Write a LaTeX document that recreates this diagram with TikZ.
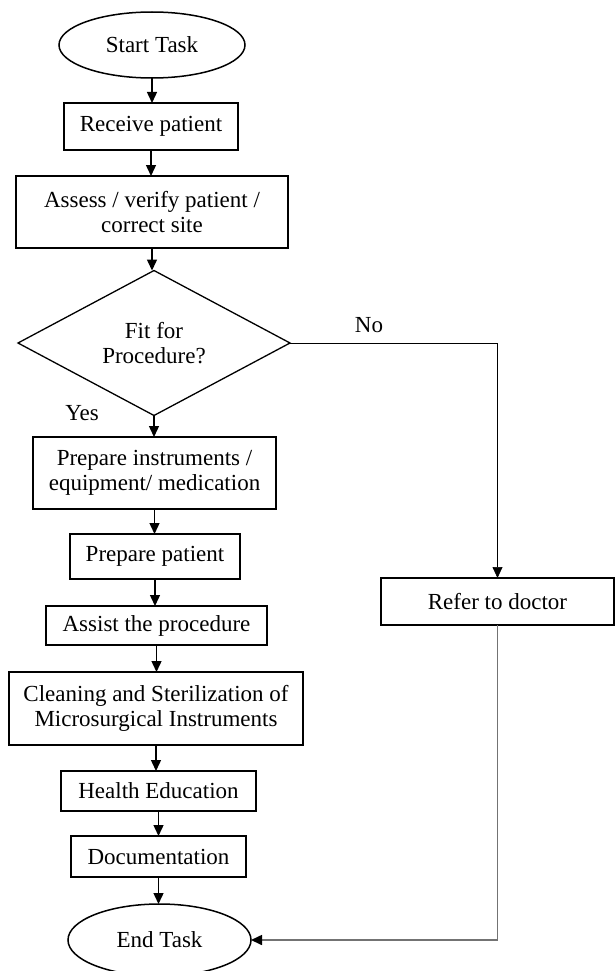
\documentclass[tikz,border=0pt]{standalone}
\usepackage{fontspec}
\setmainfont{Liberation Serif}
\usetikzlibrary{shapes.geometric,arrows.meta}

\begin{document}
\begin{tikzpicture}[x=1pt,y=-1pt,
  every node/.style={font=\fontsize{23}{25}\selectfont, inner sep=0pt, outer sep=0pt, align=center},
  stepbox/.style={draw, line width=1.5pt, rectangle},
  terminal/.style={draw, line width=1.5pt, ellipse},
  decision/.style={draw, line width=1.3pt, diamond},
  tip/.style={-{Triangle[width=10pt,length=11pt]}},
  flow/.style={line width=1.4pt, tip},
  nobranch/.style={line width=0.7pt, tip},
  returnline/.style={draw=black!55, line width=1.6pt, -{Triangle[width=10pt,length=11pt,color=black]}},
  lbl/.style={font=\fontsize{23}{25}\selectfont}
]
\useasboundingbox (0,0) rectangle (614,971);

% main column
\node[terminal, minimum width=186pt, minimum height=66pt] (start) at (152,45) {Start Task};
\node[stepbox, minimum width=174pt, minimum height=47pt] (receive) at (151,126.5) {Receive patient};
\node[stepbox, minimum width=272pt, minimum height=72pt] (assess) at (152,212) {Assess / verify patient /\\ correct site};
\node[decision, minimum width=272pt, minimum height=133pt] (fit) at (154,343) {Fit for\\ Procedure?};
\node[stepbox, minimum width=243pt, minimum height=72pt] (prepinst) at (154.5,473) {Prepare instruments /\\ equipment/ medication};
\node[stepbox, minimum width=170pt, minimum height=45pt] (preppat) at (155,556.5) {Prepare patient};
\node[stepbox, minimum width=221pt, minimum height=39pt] (assist) at (156.5,625.5) {Assist the procedure};
\node[stepbox, minimum width=294pt, minimum height=73pt] (clean) at (156,708.5) {Cleaning and Sterilization of\\ Microsurgical Instruments};
\node[stepbox, minimum width=195pt, minimum height=40pt] (health) at (158.5,791) {Health Education};
\node[stepbox, minimum width=175pt, minimum height=41pt] (doc) at (158.5,856.5) {Documentation};
\node[terminal, minimum width=183pt, minimum height=72pt] (finish) at (159.5,940) {End Task};

% side branch
\node[stepbox, minimum width=233pt, minimum height=47pt] (refer) at (497.5,601.5) {Refer to doctor};

% branch labels
\node[lbl] (yes) at (82,413) {Yes};
\node[lbl] (no) at (369,325) {No};

% connectors, kept vertical below each source box
\draw[flow] (start.south) -- (start.south |- receive.north);
\draw[flow] (receive.south) -- (receive.south |- assess.north);
\draw[flow] (assess.south) -- (assess.south |- fit.north);
\draw[flow] (fit.south) -- (fit.south |- prepinst.north);
\draw[flow] (prepinst.south) -- (prepinst.south |- preppat.north);
\draw[flow] (preppat.south) -- (preppat.south |- assist.north);
\draw[flow] (assist.south) -- (assist.south |- clean.north);
\draw[flow] (clean.south) -- (clean.south |- health.north);
\draw[flow] (health.south) -- (health.south |- doc.north);
\draw[flow] (doc.south) -- (doc.south |- finish.north);
\draw[nobranch] (fit.east) -| (refer.north);
\draw[returnline] (refer.south) |- (finish.east);
\end{tikzpicture}
\end{document}
